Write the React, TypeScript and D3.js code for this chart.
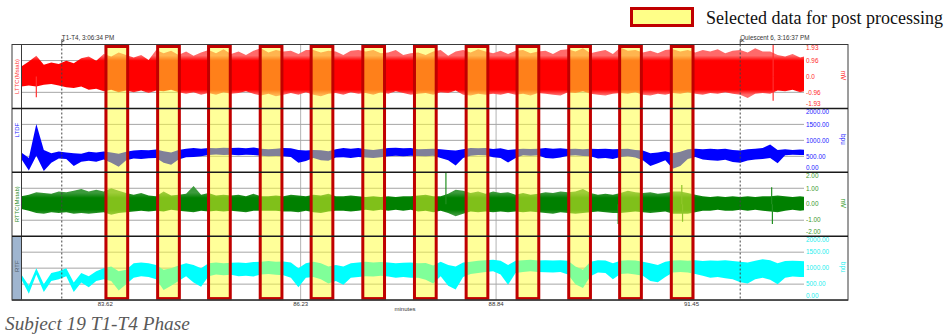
import React from "react";
import * as d3 from "d3";

// Sampling grid for the envelope series (minutes)
const T_START = 82.5;
const T_STEP = 0.1;

// Channel 1: LTTC(Mstab), mV — upper / lower envelope per sample
const redHi = [
  0.6, 0.9, 1.25, 0.7, 0.85, 0.75, 0.95, 0.8, 1.1, 1.2, 0.95,
  1.35, 1.2, 1.45, 1.3, 1.15, 1.3, 1.0, 1.6, 1.4, 1.55, 1.3,
  1.5, 1.25, 1.45, 1.6, 1.4, 1.65, 1.35, 1.5, 1.3, 1.55, 1.7,
  1.45, 1.6, 1.5, 1.55, 1.35, 1.6, 1.6, 1.45, 1.55, 1.5, 1.3,
  1.55, 1.6, 1.5, 1.6, 1.4, 1.45, 1.6, 1.3, 1.4, 1.45, 1.3,
  1.5, 1.6, 1.25, 1.5, 1.6, 1.45, 1.65, 1.5, 1.4, 1.55, 1.35,
  1.55, 1.6, 1.4, 1.5, 1.55, 1.35, 1.6, 1.65, 1.5, 1.7, 1.4,
  1.5, 1.6, 1.35, 1.75, 1.55, 1.6, 1.45, 1.55, 1.4, 1.6, 1.65,
  1.5, 1.6, 1.45, 1.6, 1.5, 1.65, 1.4, 1.55, 1.6, 1.45, 1.7,
  1.5, 1.5, 1.3, 1.2, 1.35, 1.15, 1.25,
];
const redLo = [
  -0.6, -0.55, -0.6, -0.5, -0.45, -0.55, -0.65, -0.7, -0.6, -0.8, -0.75,
  -0.9, -0.8, -0.95, -0.85, -0.95, -0.85, -1.0, -0.85, -0.9, -0.8, -0.95,
  -1.05, -0.95, -1.1, -1.0, -1.1, -0.95, -1.05, -1.0, -0.9, -1.05, -1.15,
  -1.05, -1.2, -1.1, -1.0, -1.1, -0.95, -1.1, -1.2, -1.05, -1.0, -1.1,
  -0.95, -1.05, -1.0, -1.1, -0.95, -1.05, -0.9, -1.0, -1.1, -1.05, -1.0,
  -1.1, -0.95, -1.0, -0.85, -1.1, -1.15, -1.05, -1.1, -1.05, -1.1, -1.0,
  -1.1, -1.05, -1.15, -1.0, -1.05, -1.1, -1.15, -0.95, -1.0, -0.9, -1.05,
  -1.1, -1.15, -1.05, -1.0, -1.05, -0.95, -1.1, -1.15, -1.05, -1.1, -1.0,
  -1.05, -0.95, -1.05, -1.1, -1.0, -1.05, -0.95, -1.05, -1.1, -1.3, -1.05,
  -1.0, -1.05, -0.85, -0.9, -0.8, -0.95, -0.85,
];
// isolated single-beat excursions on channel 1
const redSpikeT = [82.7, 92.54, 92.54];
const redSpikeV = [-1.26, 1.9, -1.47];

// Channel 2: LTDF, bpu
const blueHi = [
  620, 450, 1510, 700, 600, 650, 620, 600, 580, 640, 620,
  650, 620, 580, 640, 680, 700, 690, 710, 660, 620, 700,
  740, 760, 740, 760, 750, 770, 760, 770, 750, 780, 740,
  720, 740, 760, 750, 700, 680, 700, 690, 660, 720, 760,
  740, 760, 720, 700, 730, 760, 770, 750, 760, 720, 730,
  740, 720, 700, 680, 720, 760, 750, 760, 730, 750, 700,
  720, 740, 730, 740, 760, 740, 750, 730, 740, 720, 740,
  730, 740, 720, 730, 740, 700, 680, 600, 620, 660, 600,
  640, 720, 740, 720, 740, 720, 740, 700, 680, 720, 740,
  760, 870, 700, 720, 700, 710, 700,
];
const blueLo = [
  420, 60, 520, 40, 300, 430, 420, 200, 330, 360, 330,
  400, 300, 170, 380, 430, 420, 440, 450, 300, 240, 400,
  470, 480, 500, 540, 560, 540, 550, 530, 550, 540, 520,
  500, 510, 500, 480, 300, 350, 450, 380, 360, 460, 470,
  450, 480, 460, 450, 470, 500, 520, 500, 520, 510, 500,
  520, 450, 380, 210, 450, 520, 540, 530, 470, 450, 310,
  450, 530, 520, 530, 450, 430, 460, 520, 530, 510, 500,
  430, 450, 420, 480, 500, 460, 380, 200, 280, 380, 110,
  200, 420, 480, 400, 380, 360, 390, 320, 300, 370, 400,
  420, 450, 280, 530, 550, 540, 540,
];
const blueSpikeT: number[] = [];
const blueSpikeV: number[] = [];

// Channel 3: RTTC(Mstab), mV
const greenHi = [
  0.5, 0.6, 0.75, 0.7, 0.65, 0.8, 0.75, 0.85, 0.95, 0.8, 0.9,
  0.8, 1.0, 0.85, 0.7, 0.6, 0.7, 0.55, 0.5, 0.8, 0.55, 0.6,
  0.65, 1.15, 0.6, 0.7, 0.55, 0.6, 0.55, 0.6, 0.5, 0.65, 0.5,
  0.5, 0.55, 0.5, 0.6, 0.55, 0.5, 0.6, 0.55, 0.65, 0.5, 0.5,
  0.55, 0.5, 0.45, 0.5, 0.45, 0.5, 0.45, 0.5, 0.5, 0.55, 0.6,
  0.5, 0.5, 0.65, 0.9, 0.85, 0.7, 0.8, 0.65, 0.8, 0.7, 0.75,
  0.6, 0.7, 0.6, 0.65, 0.75, 0.7, 0.8, 0.75, 0.8, 0.95, 0.7,
  0.6, 0.65, 0.6, 0.7, 0.85, 0.75, 0.7, 0.75, 0.65, 0.7, 0.8,
  0.8, 0.7, 0.6, 0.5, 0.45, 0.5, 0.45, 0.5, 0.45, 0.5, 0.45,
  0.5, 0.5, 0.55, 0.5, 0.45, 0.5, 0.45,
];
const greenLo = [
  -0.3, -0.4, -0.55, -0.6, -0.5, -0.55, -0.5, -0.6, -0.55, -0.6, -0.55,
  -0.5, -0.65, -0.55, -0.5, -0.45, -0.4, -0.45, -0.4, -0.45, -0.35, -0.4,
  -0.45, -0.5, -0.4, -0.45, -0.4, -0.45, -0.4, -0.45, -0.5, -0.4, -0.4,
  -0.4, -0.4, -0.45, -0.45, -0.5, -0.4, -0.5, -0.55, -0.45, -0.4, -0.4,
  -0.45, -0.4, -0.35, -0.4, -0.35, -0.4, -0.35, -0.4, -0.35, -0.45, -0.4,
  -0.5, -0.4, -0.55, -0.75, -0.6, -0.45, -0.5, -0.45, -0.5, -0.45, -0.5,
  -0.45, -0.5, -0.45, -0.5, -0.55, -0.6, -0.5, -0.55, -0.6, -0.55, -0.5,
  -0.45, -0.5, -0.55, -0.55, -0.5, -0.45, -0.5, -0.55, -0.5, -0.45, -0.6,
  -0.6, -0.6, -0.5, -0.4, -0.4, -0.35, -0.4, -0.4, -0.35, -0.4, -0.35,
  -0.4, -0.45, -0.5, -0.4, -0.35, -0.4, -0.35,
];
const greenSpikeT = [88.17, 90.47, 91.32, 91.33, 92.52, 92.53];
const greenSpikeV = [2.0, -1.24, 1.2, -1.1, 1.06, -1.24];

// Channel 4: RTF, bpu
const cyanHi = [
  800, 450, 1000, 500, 850, 900, 1000, 550, 850, 750, 900,
  1000, 1050, 900, 950, 1150, 1180, 1150, 1100, 950, 1000, 1080,
  1150, 1100, 1000, 1150, 1180, 1150, 1170, 1180, 1160, 1190, 1200,
  1220, 1200, 1210, 1180, 1000, 1150, 1200, 1150, 1050, 1100, 1050,
  1150, 1180, 1200, 1180, 1190, 1180, 1150, 1170, 1180, 1150, 1160,
  1080, 1200, 1100, 1050, 1180, 1200, 1230, 1250, 1260, 1230, 1100,
  1230, 1250, 1260, 1240, 1250, 1240, 1250, 1230, 1050, 950, 1200,
  1250, 1240, 1150, 1230, 1250, 1240, 1200, 1150, 1100, 1200, 1240,
  1250, 1230, 1250, 1220, 1240, 1230, 1250, 1220, 1200, 1180, 1230,
  1280, 1250, 1150, 1220, 1230, 1220, 1210,
];
const cyanLo = [
  650, 200, 800, 250, 600, 650, 750, 250, 550, 400, 600,
  650, 600, 300, 500, 700, 750, 720, 650, 320, 450, 600,
  750, 550, 420, 750, 800, 780, 790, 750, 760, 740, 800,
  820, 790, 780, 700, 400, 700, 720, 650, 520, 600, 480,
  700, 720, 750, 740, 760, 740, 700, 720, 700, 700, 640,
  520, 750, 450, 330, 720, 820, 850, 880, 900, 800, 480,
  850, 880, 900, 880, 870, 860, 880, 800, 500, 380, 750,
  860, 850, 650, 820, 830, 800, 760, 600, 560, 720, 860,
  880, 860, 820, 760, 700, 720, 680, 650, 560, 520, 650,
  700, 640, 500, 700, 740, 720, 730,
];
const cyanSpikeT: number[] = [];
const cyanSpikeV: number[] = [];

// Right-hand scale ticks per channel
const ticksMv1 = [1.93, 0.96, 0, -0.96, -1.93];
const labelsMv1 = ["1.93", "0.96", "0.0", "-0.96", "-1.93"];
const ticksBpu = [2000, 1500, 1000, 500, 0];
const labelsBpu = ["2000.00", "1500.00", "1000.00", "500.00", "0.00"];
const ticksMv3 = [2, 1, 0, -1, -2];
const labelsMv3 = ["2.00", "1.00", "0.00", "-1.00", "-2.00"];

const channelNames = ["LTTC(Mstab)", "LTDF", "RTTC(Mstab)", "RTF"];
const channelUnits = ["mV", "bpu", "mV", "bpu"];

// Time axis
const xTicks = [83.62, 86.23, 88.84, 91.45];
const xTickLabels = ["83.62", "86.23", "88.84", "91.45"];

// Event markers
const markerTimes = [83.04, 92.1];
const markerLabels = ["T1-T4, 3:06:34 PM", "Quiescent 6, 3:16:37 PM"];

// Windows selected for post processing (minutes)
const selStart = [83.63, 84.32, 85.0, 85.69, 86.37, 87.06, 87.75, 88.44, 89.12, 89.81, 90.49, 91.18];
const selEnd = [83.92, 84.61, 85.29, 85.98, 86.66, 87.35, 88.04, 88.73, 89.41, 90.1, 90.78, 91.47];

const SANS = "'Liberation Sans', Arial, sans-serif";
const SERIF = "'Liberation Serif', 'Times New Roman', serif";

export default function App() {
  const W = 950;
  const H = 335;
  const frameL = 12;
  const plotL = 21.5;
  const plotR = 804;
  const frameR = 848;
  const top = 44.5;
  const panelH = 63.9;
  const bottom = top + panelH * 4;

  const x = d3.scaleLinear().domain([82.502, 92.952]).range([plotL, plotR]);

  // fringe: lighter tint toward the envelope extremes (core band between coreHi / coreLo)
  const panels = [
    { hi: redHi, lo: redLo, spT: redSpikeT, spV: redSpikeV, dom: [-1.93, 1.93], ticks: ticksMv1, labels: labelsMv1, color: "#ff0000", fringe: "#ff6a6a", coreHi: 0.95, coreLo: -0.8, spike: "#ff3030", tickColor: "#ff2a2a", nameColor: "#ff3333", nameY: 0.5 },
    { hi: blueHi, lo: blueLo, spT: blueSpikeT, spV: blueSpikeV, dom: [0, 2000], ticks: ticksBpu, labels: labelsBpu, color: "#0000ff", fringe: "#0000ff", coreHi: 2000, coreLo: 0, spike: "#2020ff", tickColor: "#2020ff", nameColor: "#2020ff", nameY: 0.34 },
    { hi: greenHi, lo: greenLo, spT: greenSpikeT, spV: greenSpikeV, dom: [-2, 2], ticks: ticksMv3, labels: labelsMv3, color: "#008000", fringe: "#3c9a3c", coreHi: 0.4, coreLo: -0.35, spike: "#1f8f1f", tickColor: "#3a9a2a", nameColor: "#2a8a2a", nameY: 0.5 },
    { hi: cyanHi, lo: cyanLo, spT: cyanSpikeT, spV: cyanSpikeV, dom: [0, 2000], ticks: ticksBpu, labels: labelsBpu, color: "#00ffff", fringe: "#00ffff", coreHi: 2000, coreLo: 0, spike: "#00ffff", tickColor: "#22eeee", nameColor: "#505a66", nameY: 0.47 },
  ];

  return (
    <svg
      width={W}
      height={H}
      style={{ position: "absolute", left: 0, top: 0, display: "block", background: "#ffffff" }}
    >
      <defs>
        {panels.map((p, k) => {
          const y0 = top + k * panelH;
          const span = p.dom[1] - p.dom[0];
          const oHi = (p.dom[1] - p.coreHi) / span;
          const oLo = (p.dom[1] - p.coreLo) / span;
          return (
            <React.Fragment key={k}>
              <clipPath id={`clip${k}`}>
                <rect x={plotL} y={y0} width={plotR - plotL} height={panelH} />
              </clipPath>
              <linearGradient id={`tint${k}`} gradientUnits="userSpaceOnUse" x1={0} x2={0} y1={y0} y2={y0 + panelH}>
                <stop offset={0} stopColor={p.fringe} />
                <stop offset={Math.max(0, oHi - 0.08)} stopColor={p.fringe} />
                <stop offset={oHi} stopColor={p.color} />
                <stop offset={oLo} stopColor={p.color} />
                <stop offset={Math.min(1, oLo + 0.08)} stopColor={p.fringe} />
                <stop offset={1} stopColor={p.fringe} />
              </linearGradient>
            </React.Fragment>
          );
        })}
      </defs>

      {/* legend */}
      <rect x={631.5} y={8.5} width={61} height={17} fill="#ffff88" stroke="#c00000" strokeWidth={3} />
      <text x={706} y={23.5} fontFamily={SERIF} fontSize={18} fill="#111">
        Selected data for post processing
      </text>

      {/* channel-name column, last row shaded */}
      <rect x={frameL} y={top + 3 * panelH} width={plotL - frameL} height={panelH} fill="#9fb5cf" />

      {/* vertical time grid */}
      {xTicks.map((t, i) => (
        <line key={i} x1={x(t)} x2={x(t)} y1={top} y2={bottom} stroke="#b4b4b4" strokeWidth={1} />
      ))}

      {panels.map((p, k) => {
        const y0 = top + k * panelH;
        const y = d3.scaleLinear().domain(p.dom).range([y0 + panelH, y0]);
        const base = p.dom[0] < 0 ? 0 : (p.dom[0] + p.dom[1]) / 2;
        const area = d3
          .area<number>()
          .x((_, i) => x(T_START + i * T_STEP))
          .y0((_, i) => y(p.lo[i]))
          .y1((d) => y(d));
        const inner = p.ticks.slice(1, -1);
        return (
          <g key={k}>
            {inner.map((v, j) => (
              <line key={j} x1={plotL} x2={plotR} y1={y(v)} y2={y(v)} stroke="#a6a6a6" strokeWidth={1} />
            ))}
            <g clipPath={`url(#clip${k})`}>
              <path d={area(p.hi) || ""} fill={`url(#tint${k})`} />
              {p.spT.map((t, j) => (
                <line key={j} x1={x(t)} x2={x(t)} y1={y(base)} y2={y(p.spV[j])} stroke={p.spike} strokeWidth={1.2} />
              ))}
            </g>
            {p.ticks.map((v, j) => {
              const ty = Math.max(y0 + 3.6, Math.min(y0 + panelH - 4.6, y(v)));
              return (
                <text key={j} x={806} y={ty} dy="0.35em" fontFamily={SANS} fontSize={6.4} fill={p.tickColor}>
                  {p.labels[j]}
                </text>
              );
            })}
            <text
              transform={`translate(843.5,${y0 + panelH / 2 - 1}) rotate(90)`}
              textAnchor="middle"
              dy="0.35em"
              fontFamily={SANS}
              fontSize={6.4}
              fill={p.tickColor}
            >
              {channelUnits[k]}
            </text>
            <text
              transform={`translate(16.6,${y0 + panelH * p.nameY}) rotate(-90)`}
              textAnchor="middle"
              dy="0.35em"
              fontFamily={SANS}
              fontSize={6}
              fill={p.nameColor}
            >
              {channelNames[k]}
            </text>
          </g>
        );
      })}

      {/* event markers */}
      {markerTimes.map((t, i) => (
        <g key={i}>
          <line x1={x(t)} x2={x(t)} y1={top} y2={bottom} stroke="#444" strokeWidth={1} strokeDasharray="2,2" />
          <path d={`M${x(t)},${top} V${top - 5} l2.5,1.2 l-2.5,1.2`} fill="none" stroke="#333" strokeWidth={0.8} />
          <text x={x(t)} y={37.5} dy="0.35em" fontFamily={SANS} fontSize={6.3} fill="#333">
            {markerLabels[i]}
          </text>
        </g>
      ))}

      {/* selected windows */}
      {selStart.map((s, i) => (
        <rect
          key={`f${i}`}
          x={x(s)}
          y={top + 2}
          width={x(selEnd[i]) - x(s)}
          height={bottom - top - 3.5}
          fill="#ffff33"
          fillOpacity={0.5}
        />
      ))}
      {selStart.map((s, i) => (
        <rect
          key={`s${i}`}
          x={x(s)}
          y={top + 2}
          width={x(selEnd[i]) - x(s)}
          height={bottom - top - 3.5}
          fill="none"
          stroke="#c00000"
          strokeWidth={3}
        />
      ))}

      {/* frame */}
      <rect x={frameL} y={top} width={frameR - frameL} height={bottom - top} fill="none" stroke="#3a3a3a" strokeWidth={1} />
      <line x1={plotL} x2={plotL} y1={top} y2={bottom} stroke="#3a3a3a" strokeWidth={1} />
      {[1, 2, 3].map((k) => (
        <line key={k} x1={frameL} x2={frameR} y1={top + k * panelH} y2={top + k * panelH} stroke="#1a1a1a" strokeWidth={1.5} />
      ))}
      <line x1={frameL} x2={frameR} y1={bottom} y2={bottom} stroke="#3a3a3a" strokeWidth={1.5} />

      {/* time axis labels */}
      {xTicks.map((t, i) => (
        <text key={i} x={x(t)} y={303.5} dy="0.35em" textAnchor="middle" fontFamily={SANS} fontSize={6} fill="#333">
          {xTickLabels[i]}
        </text>
      ))}
      <text x={405} y={309} dy="0.35em" textAnchor="middle" fontFamily={SANS} fontSize={6} fill="#333">
        minutes
      </text>

      {/* caption */}
      <text x={5} y={330} fontFamily={SERIF} fontStyle="italic" fontSize={19.3} fill="#595959">
        Subject 19 T1-T4 Phase
      </text>
    </svg>
  );
}
